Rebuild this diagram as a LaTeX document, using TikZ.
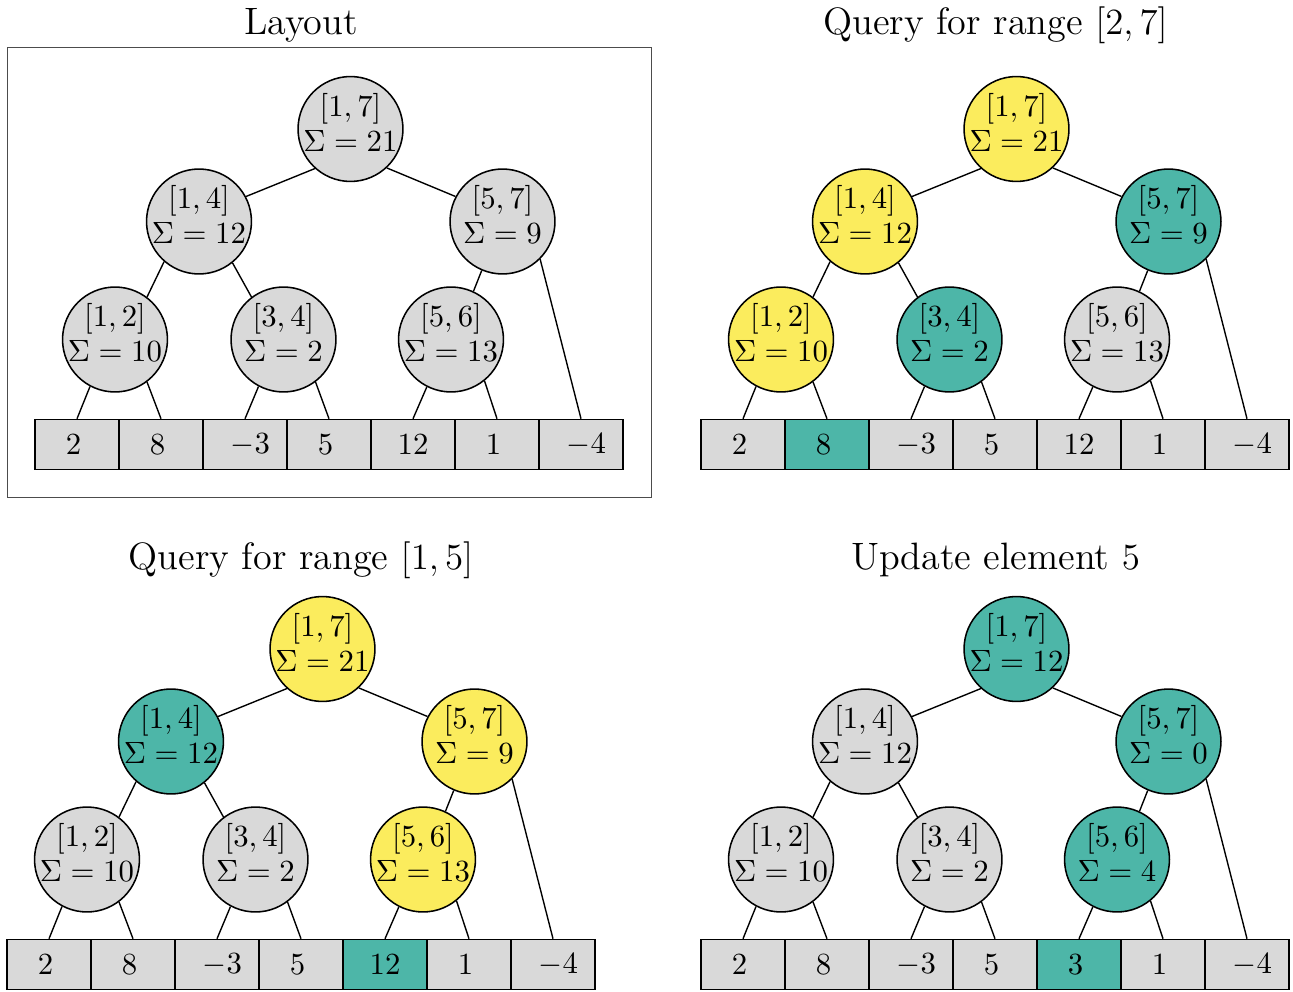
\documentclass[tikz,border=0pt]{standalone}
\usepackage{tikz}

\definecolor{nodegray}{HTML}{D9D9D9}
\definecolor{qyellow}{HTML}{FBEC5D}
\definecolor{qteal}{HTML}{4DB6A8}

\tikzset{
  tnode/.style={circle, draw, line width=0.5pt, minimum size=34.1pt, inner sep=0pt},
  tlabel/.style={anchor=base, inner sep=0pt},
  cellbox/.style={rectangle, draw, line width=0.5pt, minimum width=27.3pt,
                  minimum height=16.25pt, inner sep=0pt},
  link/.style={line width=0.45pt},
  paneltitle/.style={anchor=base, inner sep=0pt, font=\fontsize{12.4}{15}\selectfont},
}

% one tree node: centre, name, fill, range, sum
\newcommand\stnode[5]{%
  \node[tnode, fill=#3] (#2) at (#1) {};
  \node[tlabel] (#2-rng) at ([yshift=4.1pt]#2.center) {$[#4]$};
  \node[tlabel] (#2-sum) at ([yshift=-7.2pt]#2.center) {$\Sigma = #5$};
}

% array entry, set off slightly: single digits to the left, negatives to the right
\newcommand\cellval[1]{%
  \ifnum#1<0 \makebox[0pt]{\hspace*{3.4pt}$#1$}%
  \else\ifnum#1<10 \makebox[0pt]{\hspace*{-2.2pt}$#1$}%
  \else $#1$\fi\fi}

% a whole segment tree with its array; colours and sums come from \fR.. \vE
\newcommand\segpanel[1]{%
  \stnode{350.5,129}{#1r}{\fR}{1,7}{\sR}
  \stnode{199,221.5}{#1a}{\fA}{1,4}{12}
  \stnode{502.5,221.5}{#1b}{\fB}{5,7}{\sB}
  \stnode{115,339.5}{#1c}{\fC}{1,2}{10}
  \stnode{283.5,339.5}{#1d}{\fD}{3,4}{2}
  \stnode{451,339.5}{#1e}{\fE}{5,6}{\sE}
  \foreach \v [count=\i] in {2,8,-3,5,\vE,1,-4} {
    \ifnum\i=\hl\relax \def\cf{qteal}\else\def\cf{nodegray}\fi
    \node[cellbox, fill=\cf] (#1v\i) at ({77+84*(\i-1)},444.5) {\cellval{\v}};
  }
  \draw[link] (#1r.228) -- (#1a.28);
  \draw[link] (#1r.313) -- (#1b.152);
  \draw[link] (#1a.229) -- (#1c.53);
  \draw[link] (#1a.-51) -- (#1d.127);
  \draw[link] (#1b.247) -- (#1e.65);
  \draw[link] (#1b.-45) -- (#1v7.north);
  \draw[link] (#1c.-118) -- (#1v1.north);
  \draw[link] (#1c.-53) -- (#1v2.north);
  \draw[link] (#1d.-118) -- (#1v3.north);
  \draw[link] (#1d.-53) -- (#1v4.north);
  \draw[link] (#1e.-117) -- (#1v5.north);
  \draw[link] (#1e.-51) -- (#1v6.north);
}

\begin{document}
\begin{tikzpicture}[x=0.325pt, y=-0.325pt]
  \useasboundingbox (0,0) rectangle (1293,992);

  % titles
  \node[paneltitle] (t1) at (301,35) {Layout};
  \node[paneltitle] (t2) at (995.5,35) {Query for range $[2,7]$};
  \node[paneltitle] (t3) at (301,569.5) {Query for range $[1,5]$};
  \node[paneltitle] (t4) at (995.5,569.5) {Update element $5$};

  % layout
  \draw[black!70, line width=0.4pt] (7.3,47.7) rectangle (651.7,497.7);
  \def\fR{nodegray}\def\fA{nodegray}\def\fB{nodegray}
  \def\fC{nodegray}\def\fD{nodegray}\def\fE{nodegray}
  \def\sR{21}\def\sB{9}\def\sE{13}\def\vE{12}\def\hl{0}
  \segpanel{p}

  % query [2,7]
  \begin{scope}[shift={(666,0)}]
    \def\fR{qyellow}\def\fA{qyellow}\def\fB{qteal}
    \def\fC{qyellow}\def\fD{qteal}\def\fE{nodegray}
    \def\hl{2}
    \segpanel{q}
  \end{scope}

  % query [1,5]
  \begin{scope}[shift={(-28,520)}]
    \def\fR{qyellow}\def\fA{qteal}\def\fB{qyellow}
    \def\fC{nodegray}\def\fD{nodegray}\def\fE{qyellow}
    \def\hl{5}
    \segpanel{s}
  \end{scope}

  % update element 5
  \begin{scope}[shift={(666,520)}]
    \def\fR{qteal}\def\fA{nodegray}\def\fB{qteal}
    \def\fC{nodegray}\def\fD{nodegray}\def\fE{qteal}
    \def\sR{12}\def\sB{0}\def\sE{4}\def\vE{3}\def\hl{5}
    \segpanel{u}
  \end{scope}
\end{tikzpicture}
\end{document}
